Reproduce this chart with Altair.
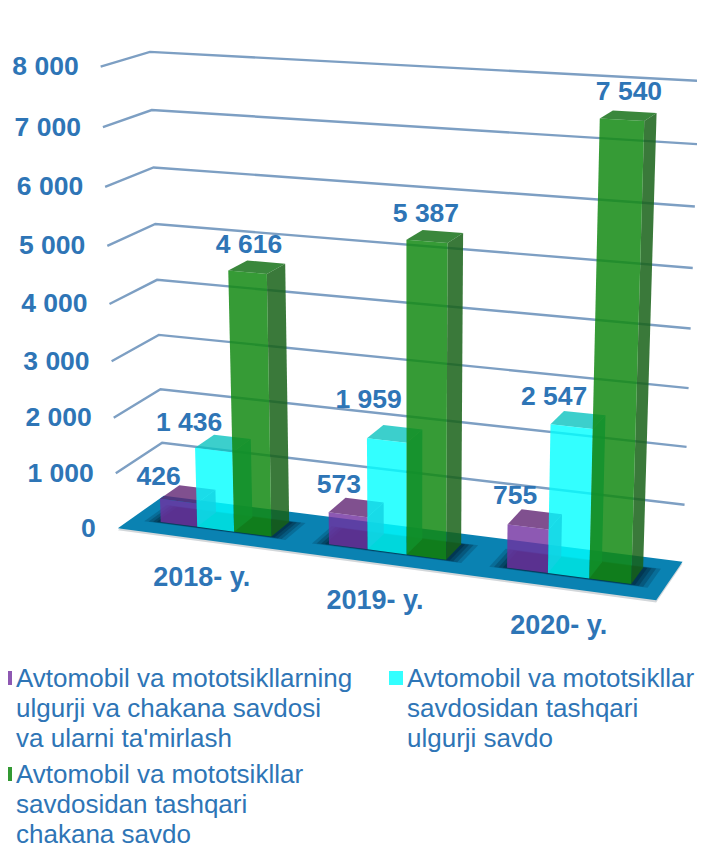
import altair as alt
import numpy as np
import pandas as pd

years = ["2018- y.", "2019- y.", "2020- y."]
series = [
    "Avtomobil va mototsikllarning|ulgurji va chakana savdosi|va ularni ta'mirlash",
    "Avtomobil va mototsikllar|savdosidan tashqari|chakana savdo",
    "Avtomobil va mototsikllar|savdosidan tashqari|ulgurji savdo",
]
swatches = ["#8e58b2", "#339933", "#33ffff"]
repair = [426, 573, 755]
wholesale = [1436, 1959, 2547]
retail = [4616, 5387, 7540]
ticks = [0, 1000, 2000, 3000, 4000, 5000, 6000, 7000, 8000]

# camera calibration of the 3-D box (screen position of its grid corners, low to high)
front_x = [117.3, 116, 114, 111, 109.5, 107.5, 105, 103, 100.7]
front_y = [527.7, 474, 418, 360, 304.5, 246, 187, 127.5, 66.7]
back_x = [165, 162.5, 160.5, 158, 156.7, 155, 153.5, 152, 150]
back_y = [497, 443, 389, 333, 280, 224, 167.3, 110, 52.3]
right_x = [682.3, 684.3, 686.7, 688.3, 690, 692.7, 695, 697, 700]
right_y = [561.7, 505.3, 447.7, 387, 328, 268.3, 206.7, 144.3, 80.7]
near_corner = (656.7, 600)
VMAX = 8000.0

rows = []
for i, t in enumerate(ticks):
    z = t / VMAX
    for (u, d), px, py in (((0, 0), front_x, front_y), ((0, 1), back_x, back_y), ((1, 1), right_x, right_y)):
        x, y = px[i] / 700, py[i] / 700
        rows.append([u, d, z, 1, 0, 0, 0, 0, -x * u, -x * d, -x * z, -x])
        rows.append([0, 0, 0, 0, u, d, z, 1, -y * u, -y * d, -y * z, -y])
x, y = near_corner[0] / 700, near_corner[1] / 700
rows.append([1, 0, 0, 1, 0, 0, 0, 0, -x, 0, 0, -x])
rows.append([0, 0, 0, 0, 1, 0, 0, 1, -y, 0, 0, -y])
P = np.linalg.svd(np.array(rows))[2][-1].reshape(3, 4)


def proj(u, d, value):
    h = P @ np.array([u, d, value / VMAX, 1.0])
    return float(h[0] / h[2] * 700), float(h[1] / h[2] * 700)


FONT = "Liberation Sans"
BLUE = "#2e75b6"
X = alt.X("x:Q", axis=None, scale=alt.Scale(domain=[8, 697], nice=False, zero=False))
Y = alt.Y("y:Q", axis=None, scale=alt.Scale(domain=[849, 8], nice=False, zero=False))


def polygons(polys, color, opacity=1.0):
    """polys: list of lists of (u, d, value) corners"""
    recs = []
    for k, poly in enumerate(polys):
        for i, (u, d, v) in enumerate(poly):
            px, py = proj(u, d, v)
            recs.append({"id": k, "i": i, "x": px, "y": py})
    return alt.Chart(pd.DataFrame(recs)).mark_line(
        fill=color, fillOpacity=opacity, strokeWidth=0, interpolate="linear-closed", clip=True
    ).encode(x=X, y=Y, detail="id:N", order="i:Q")


def rect(u0, u1, d0, d1, v=0):
    return [(u0, d0, v), (u1, d0, v), (u1, d1, v), (u0, d1, v)]


layers = []
layers.append(polygons([rect(0, 1, 0, 1, -35)], "#d3d7da"))
layers.append(polygons([rect(0, 1, 0, 1, 0)], "#0a82b2"))

BAR_W = 0.0735
GROUP_STEP = 0.3318
GROUP_START = 0.0585
D0, D1 = 0.30, 0.73

for margin, op in ((0.03, 0.25), (0.022, 0.35), (0.014, 0.45), (0.007, 0.65)):
    layers.append(polygons(
        [rect(GROUP_START + GROUP_STEP * i - margin, GROUP_START + GROUP_STEP * i + 3 * BAR_W + margin,
              D0 - margin * 1.2, D1 + margin) for i in range(3)],
        "#02304a", op))

# grid
recs = []
for t in ticks:
    for i, (u, d) in enumerate(((0, 0), (0, 1), (1, 1))):
        px, py = proj(u, d, t)
        recs.append({"t": t, "i": i, "x": px, "y": py})
grid_df = pd.DataFrame(recs)
layers.append(alt.Chart(grid_df[grid_df.t > 0]).mark_line(color="#7d9fc3", strokeWidth=2.4, clip=True).encode(
    x=X, y=Y, detail="t:N", order="i:Q"))

# bars
styles = [
    (repair, "#7030a0", "#5a2070", "#602473", 0.8),
    (wholesale, "#00ffff", "#00b8b8", "#0bc3bf", 0.8),
    (retail, "#138913", "#176217", "#17721a", 0.85),
]
for s, (vals, front, side, top, op) in enumerate(styles):
    u0s = [GROUP_START + GROUP_STEP * i + BAR_W * s for i in range(3)]
    layers.append(polygons([[(u + BAR_W, D0, 0), (u + BAR_W, D1, 0), (u + BAR_W, D1, v), (u + BAR_W, D0, v)]
                            for u, v in zip(u0s, vals)], side, op))
    layers.append(polygons([rect(u, u + BAR_W, D0, D1, v) for u, v in zip(u0s, vals)], top, op))
    layers.append(polygons([[(u, D0, 0), (u + BAR_W, D0, 0), (u + BAR_W, D0, v), (u, D0, v)]
                            for u, v in zip(u0s, vals)], front, op))

# tick labels
recs = []
for t in ticks:
    px, py = proj(0, 0, t)
    recs.append({"x": px, "y": py, "label": f"{t:,}".replace(",", " ")})
layers.append(alt.Chart(pd.DataFrame(recs)).mark_text(
    font=FONT, fontSize=26.5, fontWeight="bold", color=BLUE, align="right", baseline="alphabetic", dx=-22, dy=8.5
).encode(x=X, y=Y, text="label:N"))

# category labels
recs = []
for i, yr in enumerate(years):
    px, py = proj(GROUP_START + GROUP_STEP * i + 1.5 * BAR_W, 0, 0)
    recs.append({"x": px, "y": py, "label": yr})
layers.append(alt.Chart(pd.DataFrame(recs)).mark_text(
    font=FONT, fontSize=27, fontWeight="bold", color=BLUE, align="center", baseline="alphabetic", dx=-0.5, dy=46.5
).encode(x=X, y=Y, text="label:N"))

# value labels, each with its own offset as in the source
nudges = [
    [(-19.5, -16), (-9, -22), (-13, -23)],
    [(-24.5, -19), (-18, -33), (-17.5, -21.5)],
    [(1.5, -19), (-1, -19), (7, -19.5)],
]
recs = []
for s, vals in enumerate((repair, wholesale, retail)):
    for i, v in enumerate(vals):
        px, py = proj(GROUP_START + GROUP_STEP * i + BAR_W * (s + 0.5), D0, v)
        recs.append({"x": px + nudges[s][i][0], "y": py + nudges[s][i][1], "label": f"{v:,}".replace(",", " ")})
layers.append(alt.Chart(pd.DataFrame(recs)).mark_text(
    font=FONT, fontSize=26.5, fontWeight="bold", color=BLUE, align="center", baseline="alphabetic"
).encode(x=X, y=Y, text="label:N"))

# legend, carried by an invisible layer
px, py = proj(0, 0, 0)
legend_df = pd.DataFrame({"s": series, "x": [px] * 3, "y": [py] * 3})
layers.append(alt.Chart(legend_df).mark_point(opacity=0, filled=True, shape="square").encode(
    x=X, y=Y,
    fill=alt.Fill("s:N", scale=alt.Scale(domain=series, range=swatches),
                  legend=alt.Legend(
                      orient="none", legendX=-16, legendY=657, columns=2, title=None, padding=0,
                      symbolType="square", symbolSize=196, symbolOpacity=1, symbolStrokeWidth=0,
                      labelFont=FONT, labelFontSize=26, labelColor=BLUE, labelBaseline="alphabetic",
                      labelLimit=0, labelOffset=0, columnPadding=30, rowPadding=9,
                      labelExpr="split(datum.label, '|')",
                  )),
))

chart = alt.layer(*layers).properties(
    width=689, height=841, padding=0, autosize=alt.AutoSizeParams(type="none"),
    background="white",
    config=alt.Config(view=alt.ViewConfig(stroke=None),
                      style={"guide-label": {"lineHeight": 30, "dy": 9, "dx": -2}}),
)

chart.save("out.html", embed_options={"renderer": "svg", "actions": False})
